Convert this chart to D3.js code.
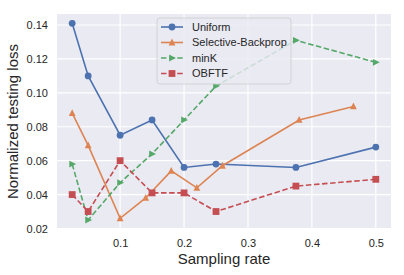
<!DOCTYPE html>
<html>
<head>
<meta charset="utf-8">
<script src="https://cdn.jsdelivr.net/npm/d3@7"></script>
<style>
  body { margin: 0; background: #fff; }
  text { font-family: "Liberation Sans", Arial, sans-serif; fill: #262626; }
</style>
</head>
<body>
<div id="chart"></div>
<script>
// data
const rates = [0.025, 0.05, 0.1, 0.15, 0.2, 0.25, 0.375, 0.5]
const uniformLoss = [0.141, 0.110, 0.075, 0.084, 0.056, 0.058, 0.056, 0.068]
const sbRates = [0.025, 0.05, 0.1, 0.14, 0.18, 0.22, 0.26, 0.38, 0.465]
const sbLoss = [0.088, 0.069, 0.026, 0.038, 0.054, 0.044, 0.057, 0.084, 0.092]
const minkLoss = [0.058, 0.025, 0.047, 0.064, 0.084, 0.104, 0.131, 0.118]
const obftfLoss = [0.040, 0.030, 0.060, 0.041, 0.041, 0.030, 0.045, 0.049]
const xTicks = [0.1, 0.2, 0.3, 0.4, 0.5]
const yTicks = [0.02, 0.04, 0.06, 0.08, 0.10, 0.12, 0.14]

const series = [
  {name: "Uniform", x: rates, y: uniformLoss, color: "#4c72b0", marker: "circle", dash: null},
  {name: "Selective-Backprop", x: sbRates, y: sbLoss, color: "#dd8452", marker: "triUp", dash: null},
  {name: "minK", x: rates, y: minkLoss, color: "#55a868", marker: "triRight", dash: "5.5,2.6"},
  {name: "OBFTF", x: rates, y: obftfLoss, color: "#c44e52", marker: "square", dash: "5.5,2.6"},
]

// dimensions
let dimensions = {
  width: 404,
  height: 275,
  margin: {top: 14, right: 13, bottom: 46, left: 57},
}
dimensions.boundedWidth = dimensions.width - dimensions.margin.left - dimensions.margin.right
dimensions.boundedHeight = dimensions.height - dimensions.margin.top - dimensions.margin.bottom

const wrapper = d3.select("#chart")
  .append("svg")
    .attr("width", dimensions.width)
    .attr("height", dimensions.height)

const bounds = wrapper.append("g")
  .attr("transform", `translate(${dimensions.margin.left},${dimensions.margin.top})`)

// scales
const xScale = d3.scaleLinear()
  .domain([0.00125, 0.52375])
  .range([0, dimensions.boundedWidth])

const yScale = d3.scaleLinear()
  .domain([0.0197, 0.1465])
  .range([dimensions.boundedHeight, 0])

// background + grid
bounds.append("rect")
  .attr("width", dimensions.boundedWidth)
  .attr("height", dimensions.boundedHeight)
  .attr("fill", "#eaeaf2")

bounds.selectAll(".xgrid")
  .data(xTicks)
  .join("line")
    .attr("x1", d => xScale(d)).attr("x2", d => xScale(d))
    .attr("y1", 0).attr("y2", dimensions.boundedHeight)
    .attr("stroke", "#fff").attr("stroke-width", 1.2)

bounds.selectAll(".ygrid")
  .data(yTicks)
  .join("line")
    .attr("x1", 0).attr("x2", dimensions.boundedWidth)
    .attr("y1", d => yScale(d)).attr("y2", d => yScale(d))
    .attr("stroke", "#fff").attr("stroke-width", 1.2)

// axes (no domain / tick lines, like seaborn darkgrid)
const xAxis = bounds.append("g")
  .attr("transform", `translate(0,${dimensions.boundedHeight})`)
  .call(d3.axisBottom(xScale).tickValues(xTicks).tickFormat(d3.format(".1f")).tickSize(0).tickPadding(10))
const yAxis = bounds.append("g")
  .call(d3.axisLeft(yScale).tickValues(yTicks).tickFormat(d3.format(".2f")).tickSize(0).tickPadding(9))
xAxis.select(".domain").remove()
yAxis.select(".domain").remove()
wrapper.selectAll(".tick text")
  .style("font-family", '"Liberation Sans", Arial, sans-serif')
  .style("font-size", "11px")
  .attr("fill", "#262626")

wrapper.append("text")
  .attr("x", dimensions.margin.left + dimensions.boundedWidth / 2)
  .attr("y", 264)
  .attr("text-anchor", "middle")
  .style("font-size", "15px")
  .text("Sampling rate")

wrapper.append("text")
  .attr("transform", `translate(18,${dimensions.margin.top + dimensions.boundedHeight / 2}) rotate(-90)`)
  .attr("text-anchor", "middle")
  .style("font-size", "15px")
  .text("Normalized testing loss")

// markers
function drawMarker(sel, type, color) {
  const s = 3.4
  if (type === "circle") {
    sel.append("circle").attr("r", s).attr("fill", color)
  } else if (type === "square") {
    sel.append("rect").attr("x", -s).attr("y", -s).attr("width", 2 * s).attr("height", 2 * s).attr("fill", color)
  } else if (type === "triUp") {
    sel.append("path").attr("d", `M0,${-s * 1.15}L${s},${s * 0.85}L${-s},${s * 0.85}Z`).attr("fill", color)
  } else if (type === "triRight") {
    sel.append("path").attr("d", `M${s * 1.15},0L${-s * 0.85},${s}L${-s * 0.85},${-s}Z`).attr("fill", color)
  }
}

const lineGenerator = d3.line()
  .x(p => xScale(p[0]))
  .y(p => yScale(p[1]))

series.forEach(s => {
  const pts = s.x.map((x, i) => [x, s.y[i]])
  const g = bounds.append("g")
  g.append("path")
    .attr("d", lineGenerator(pts))
    .attr("fill", "none")
    .attr("stroke", s.color)
    .attr("stroke-width", 1.6)
    .attr("stroke-dasharray", s.dash)
  pts.forEach(p => {
    const m = g.append("g").attr("transform", `translate(${xScale(p[0])},${yScale(p[1])})`)
    drawMarker(m, s.marker, s.color)
  })
})

// legend
const legend = wrapper.append("g").attr("transform", "translate(157,18)")
legend.append("rect")
  .attr("width", 134).attr("height", 66)
  .attr("rx", 3)
  .attr("fill", "#eaeaf2").attr("fill-opacity", 0.8)
  .attr("stroke", "#cccccc").attr("stroke-width", 0.8)

series.forEach((s, i) => {
  const row = legend.append("g").attr("transform", `translate(0,${9 + i * 15.5})`)
  row.append("line")
    .attr("x1", 4).attr("x2", 26)
    .attr("stroke", s.color).attr("stroke-width", 1.6)
    .attr("stroke-dasharray", s.dash)
  const m = row.append("g").attr("transform", "translate(15,0)")
  drawMarker(m, s.marker, s.color)
  row.append("text")
    .attr("x", 35).attr("dy", "0.35em")
    .style("font-size", "11px")
    .text(s.name)
})
</script>
</body>
</html>
